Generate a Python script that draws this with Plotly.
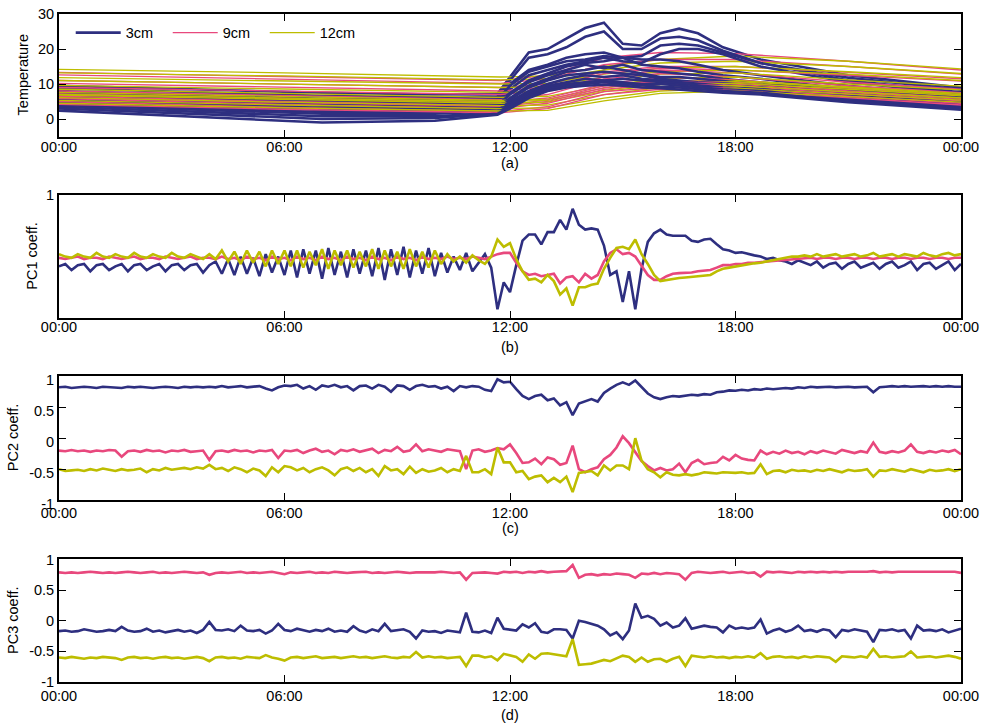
import plotly.graph_objects as go

# ---------------- axis / category data ----------------
STEP_MIN = 10  # sampling interval of the PC coefficient series (minutes)
TICK_VALS = [0, 360, 720, 1080, 1440]
TICK_TEXT = ["00:00", "06:00", "12:00", "18:00", "00:00"]
DEPTHS = ["3cm", "9cm", "12cm"]
COLORS = {"3cm": "#2e2f80", "9cm": "#e8487d", "12cm": "#bdbd00"}

# ---------------- panel (a): temperature profiles ----------------
TIMES_3CM = [0, 180, 420, 600, 700, 720, 750, 780, 810, 840, 870, 900, 930, 960, 990, 1020, 1060, 1120, 1260, 1440]
TEMP_3CM = [
    [9.5, 8.6, 7.5, 7.0, 7.2, 12.0, 19.0, 20.0, 23.0, 26.0, 27.5, 21.5, 21.0, 24.5, 25.8, 24.5, 20.5, 17.0, 12.5, 9.0],
    [8.8, 7.8, 6.6, 6.2, 6.5, 11.0, 17.5, 18.5, 20.5, 23.5, 25.0, 20.0, 20.0, 23.0, 23.5, 22.5, 19.5, 16.0, 11.8, 8.4],
    [8.0, 7.0, 5.8, 5.5, 5.8, 10.0, 14.0, 15.5, 17.5, 18.5, 19.0, 17.5, 18.0, 21.0, 21.5, 21.0, 19.0, 16.0, 11.0, 7.6],
    [7.0, 6.0, 4.8, 4.5, 5.0, 8.5, 12.5, 14.0, 15.5, 16.5, 17.5, 16.5, 16.0, 18.5, 20.0, 20.0, 18.5, 15.0, 10.5, 7.2],
    [7.5, 6.5, 5.3, 5.0, 5.5, 9.5, 13.5, 15.0, 16.5, 17.0, 18.0, 17.5, 17.0, 17.0, 16.5, 15.5, 14.0, 12.5, 9.5, 6.5],
    [6.5, 5.5, 4.2, 4.0, 4.5, 7.5, 11.0, 13.0, 15.0, 16.0, 16.5, 17.5, 15.5, 15.0, 14.5, 13.5, 12.5, 11.5, 8.5, 6.0],
    [6.0, 5.0, 3.8, 3.6, 4.0, 7.0, 10.5, 12.5, 14.0, 15.5, 14.5, 15.5, 14.0, 13.5, 13.0, 12.5, 11.5, 10.5, 8.0, 5.6],
    [5.5, 4.5, 3.2, 3.0, 3.5, 6.0, 9.5, 11.5, 13.5, 14.0, 15.0, 14.0, 13.0, 12.0, 12.0, 11.5, 11.0, 10.0, 7.5, 5.0],
    [5.0, 4.0, 2.6, 2.5, 3.0, 5.5, 9.0, 11.0, 12.5, 13.0, 13.5, 13.0, 12.5, 11.5, 11.0, 10.5, 10.2, 9.5, 7.0, 4.6],
    [4.5, 3.4, 2.0, 2.0, 2.5, 5.0, 8.0, 10.0, 11.5, 12.5, 12.0, 12.5, 11.5, 11.0, 10.5, 10.0, 9.5, 9.0, 6.5, 4.2],
    [4.0, 3.0, 1.5, 1.5, 2.2, 4.5, 7.5, 9.5, 10.5, 11.5, 11.0, 11.5, 11.0, 10.5, 10.0, 9.5, 9.0, 8.5, 6.0, 3.8],
    [3.5, 2.4, 0.8, 0.8, 1.8, 4.0, 7.0, 9.0, 10.0, 10.5, 11.0, 10.5, 10.0, 10.0, 9.5, 9.0, 8.5, 8.0, 5.5, 3.4],
    [3.0, 1.8, 0.0, 0.3, 1.5, 3.5, 6.5, 8.5, 9.5, 10.0, 10.5, 10.0, 9.5, 9.2, 9.0, 8.5, 8.0, 7.5, 5.0, 3.0],
    [2.4, 1.0, -1.0, -0.5, 1.2, 3.0, 6.0, 8.0, 9.0, 9.5, 9.8, 9.5, 9.0, 8.8, 8.5, 8.0, 7.5, 7.0, 4.8, 2.7],
]

TIMES_DEEP = [0, 360, 705, 780, 870, 960, 1080, 1260, 1440]
TEMP_9CM = [
    [13.3, 12.2, 11.0, 12.5, 17.5, 19.0, 18.7, 16.5, 14.0],
    [12.6, 11.4, 10.2, 11.5, 15.5, 17.0, 17.0, 15.0, 12.8],
    [11.0, 10.0, 9.0, 10.0, 13.5, 15.0, 15.0, 13.3, 11.5],
    [10.2, 9.0, 8.0, 9.2, 13.0, 14.5, 14.0, 12.5, 10.8],
    [9.0, 8.0, 7.0, 8.2, 12.0, 14.0, 13.2, 10.5, 8.5],
    [8.0, 6.8, 5.5, 7.0, 11.5, 13.0, 12.0, 9.5, 7.5],
    [7.2, 6.0, 4.8, 6.0, 10.0, 12.0, 11.2, 8.8, 6.8],
    [6.5, 5.0, 3.8, 5.5, 9.5, 11.0, 10.5, 8.0, 6.0],
    [6.0, 4.8, 3.6, 5.0, 9.0, 10.8, 10.0, 7.6, 5.6],
    [5.8, 4.2, 3.0, 4.5, 8.5, 10.0, 9.5, 7.2, 5.2],
    [5.0, 3.3, 2.2, 3.5, 7.8, 9.0, 8.8, 6.5, 4.5],
    [4.2, 2.8, 1.8, 3.0, 7.0, 8.5, 8.2, 6.0, 4.0],
]
TEMP_12CM = [
    [14.2, 13.2, 12.0, 12.3, 15.0, 17.0, 18.0, 16.5, 14.3],
    [13.2, 12.3, 11.2, 11.5, 14.0, 16.0, 16.5, 15.0, 13.0],
    [11.8, 10.8, 10.0, 10.2, 12.8, 14.5, 15.0, 13.5, 11.8],
    [11.0, 10.0, 9.0, 9.3, 12.0, 13.5, 14.0, 12.8, 11.0],
    [9.6, 8.6, 7.6, 7.9, 10.8, 12.8, 13.2, 11.2, 9.4],
    [8.5, 7.3, 6.2, 6.5, 9.5, 11.5, 12.0, 10.0, 8.3],
    [7.6, 6.5, 5.3, 5.7, 8.8, 10.8, 11.0, 9.2, 7.3],
    [7.0, 6.0, 5.0, 5.3, 8.2, 10.2, 10.7, 9.0, 7.0],
    [6.8, 5.6, 4.5, 4.8, 7.8, 9.8, 10.2, 8.5, 6.6],
    [6.1, 4.8, 3.8, 4.0, 7.0, 9.0, 9.5, 7.8, 6.0],
    [5.3, 4.0, 3.0, 3.2, 6.0, 8.0, 8.8, 7.2, 5.4],
    [4.5, 3.2, 2.3, 2.5, 5.2, 7.3, 8.0, 6.5, 4.8],
]

# ---------------- panel (b): PC1 coefficients (every 10 min) ----------------
PC1_3CM = [
    0.42, 0.44, 0.39, 0.43, 0.44, 0.38, 0.43, 0.44, 0.39, 0.42, 0.44, 0.38,
    0.43, 0.44, 0.39, 0.42, 0.44, 0.38, 0.43, 0.44, 0.39, 0.43, 0.44, 0.37,
    0.43, 0.46, 0.36, 0.48, 0.35, 0.50, 0.36, 0.49, 0.34, 0.52, 0.37, 0.50,
    0.35, 0.55, 0.33, 0.56, 0.36, 0.55, 0.32, 0.57, 0.35, 0.54, 0.33, 0.56,
    0.36, 0.55, 0.34, 0.57, 0.31, 0.56, 0.35, 0.58, 0.33, 0.55, 0.36, 0.57,
    0.34, 0.53, 0.37, 0.50, 0.39, 0.53, 0.38, 0.45, 0.52, 0.41, 0.07, 0.29,
    0.21, 0.43, 0.63, 0.68, 0.68, 0.60, 0.70, 0.70, 0.80, 0.72, 0.89, 0.76,
    0.72, 0.73, 0.72, 0.59, 0.35, 0.38, 0.13, 0.38, 0.07, 0.40, 0.62, 0.69,
    0.72, 0.68, 0.67, 0.67, 0.67, 0.63, 0.62, 0.64, 0.645, 0.60, 0.56, 0.55,
    0.53, 0.535, 0.52, 0.51, 0.50, 0.48, 0.49, 0.47, 0.46, 0.44, 0.47, 0.45,
    0.43, 0.46, 0.41, 0.44, 0.45, 0.40, 0.44, 0.46, 0.41, 0.43, 0.45, 0.40,
    0.44, 0.46, 0.41, 0.43, 0.46, 0.39, 0.44, 0.45, 0.40, 0.43, 0.46, 0.39,
    0.44,
]
PC1_9CM = [
    0.49, 0.48, 0.49, 0.50, 0.48, 0.49, 0.49, 0.48, 0.50, 0.49, 0.48, 0.49,
    0.50, 0.48, 0.49, 0.49, 0.48, 0.50, 0.49, 0.48, 0.49, 0.50, 0.48, 0.49,
    0.49, 0.48, 0.50, 0.48, 0.49, 0.47, 0.50, 0.48, 0.49, 0.47, 0.50, 0.48,
    0.49, 0.47, 0.50, 0.48, 0.49, 0.47, 0.50, 0.48, 0.49, 0.47, 0.50, 0.48,
    0.49, 0.47, 0.50, 0.48, 0.49, 0.47, 0.50, 0.48, 0.49, 0.47, 0.50, 0.48,
    0.49, 0.48, 0.50, 0.48, 0.49, 0.48, 0.50, 0.49, 0.48, 0.50, 0.52, 0.53,
    0.53, 0.45, 0.38, 0.35, 0.36, 0.34, 0.35, 0.36, 0.28, 0.33, 0.34, 0.29,
    0.36, 0.32, 0.35, 0.46, 0.53, 0.56, 0.52, 0.53, 0.50, 0.43, 0.35, 0.31,
    0.31, 0.34, 0.36, 0.365, 0.365, 0.37, 0.38, 0.385, 0.39, 0.41, 0.43, 0.43,
    0.44, 0.44, 0.45, 0.45, 0.455, 0.46, 0.465, 0.47, 0.475, 0.48, 0.48, 0.485,
    0.49, 0.48, 0.49, 0.49, 0.48, 0.49, 0.49, 0.48, 0.49, 0.49, 0.48, 0.49,
    0.49, 0.48, 0.49, 0.49, 0.48, 0.49, 0.49, 0.48, 0.49, 0.49, 0.48, 0.49,
    0.49,
]
PC1_12CM = [
    0.52, 0.50, 0.49, 0.52, 0.50, 0.49, 0.53, 0.50, 0.49, 0.52, 0.50, 0.49,
    0.53, 0.50, 0.49, 0.52, 0.50, 0.49, 0.53, 0.50, 0.49, 0.52, 0.50, 0.48,
    0.52, 0.48, 0.55, 0.46, 0.54, 0.44, 0.55, 0.45, 0.54, 0.42, 0.55, 0.44,
    0.55, 0.42, 0.55, 0.41, 0.54, 0.43, 0.56, 0.40, 0.55, 0.43, 0.55, 0.41,
    0.54, 0.42, 0.56, 0.40, 0.55, 0.42, 0.54, 0.40, 0.56, 0.42, 0.54, 0.41,
    0.55, 0.44, 0.52, 0.46, 0.50, 0.45, 0.51, 0.47, 0.44, 0.50, 0.64, 0.58,
    0.61, 0.48, 0.38, 0.31, 0.32, 0.29, 0.35, 0.30, 0.19, 0.24, 0.10, 0.25,
    0.25, 0.27, 0.28, 0.40, 0.49, 0.57, 0.58, 0.56, 0.64, 0.52, 0.44, 0.35,
    0.30, 0.31, 0.32, 0.325, 0.33, 0.335, 0.34, 0.345, 0.35, 0.38, 0.40, 0.41,
    0.42, 0.43, 0.44, 0.445, 0.45, 0.46, 0.47, 0.48, 0.49, 0.50, 0.50, 0.51,
    0.50, 0.52, 0.50, 0.51, 0.52, 0.50, 0.51, 0.52, 0.50, 0.51, 0.53, 0.50,
    0.51, 0.52, 0.50, 0.52, 0.51, 0.50, 0.53, 0.51, 0.50, 0.52, 0.53, 0.51,
    0.52,
]

# ---------------- panel (c): PC2 coefficients ----------------
PC2_3CM = [
    0.82, 0.83, 0.81, 0.82, 0.83, 0.82, 0.81, 0.83, 0.82, 0.82, 0.81, 0.83,
    0.82, 0.83, 0.82, 0.81, 0.82, 0.83, 0.82, 0.81, 0.83, 0.82, 0.83, 0.82,
    0.83, 0.82, 0.84, 0.82, 0.83, 0.84, 0.82, 0.83, 0.84, 0.80, 0.77, 0.82,
    0.85, 0.84, 0.86, 0.80, 0.84, 0.78, 0.85, 0.83, 0.86, 0.82, 0.84, 0.77,
    0.84, 0.85, 0.80, 0.86, 0.83, 0.75, 0.85, 0.84, 0.78, 0.84, 0.86, 0.83,
    0.84, 0.80, 0.83, 0.76, 0.84, 0.82, 0.84, 0.83, 0.78, 0.76, 0.95, 0.90,
    0.91, 0.79, 0.68, 0.63, 0.68, 0.70, 0.61, 0.64, 0.53, 0.58, 0.37, 0.56,
    0.60, 0.63, 0.59, 0.73, 0.80, 0.86, 0.90, 0.86, 0.93, 0.82, 0.72, 0.66,
    0.63, 0.66, 0.68, 0.67, 0.69, 0.70, 0.69, 0.71, 0.70, 0.74, 0.75, 0.77,
    0.765, 0.78, 0.77, 0.79, 0.78, 0.80, 0.79, 0.80, 0.81, 0.80, 0.82, 0.81,
    0.83, 0.82, 0.83, 0.83, 0.82, 0.83, 0.83, 0.82, 0.83, 0.83, 0.74, 0.82,
    0.83, 0.84, 0.83, 0.84, 0.83, 0.84, 0.84, 0.83, 0.84, 0.83, 0.84, 0.83,
    0.83,
]
PC2_9CM = [
    -0.20, -0.21, -0.19, -0.21, -0.20, -0.22, -0.20, -0.21, -0.19, -0.20, -0.30, -0.21,
    -0.20, -0.22, -0.19, -0.21, -0.20, -0.23, -0.20, -0.21, -0.19, -0.22, -0.21, -0.20,
    -0.35, -0.21, -0.20, -0.22, -0.19, -0.21, -0.20, -0.23, -0.20, -0.21, -0.19, -0.32,
    -0.20, -0.21, -0.19, -0.24, -0.20, -0.17, -0.22, -0.20, -0.26, -0.19, -0.21, -0.18,
    -0.22, -0.20, -0.17, -0.24, -0.19, -0.21, -0.14, -0.22, -0.20, -0.10, -0.21, -0.18,
    -0.20, -0.22, -0.18, -0.20, -0.21, -0.50, -0.20, -0.18, -0.22, -0.20, -0.16, -0.18,
    -0.10, -0.24, -0.40, -0.39, -0.33, -0.42, -0.31, -0.34, -0.43, -0.40, -0.12, -0.50,
    -0.55, -0.50, -0.47, -0.34, -0.27, -0.15, 0.03, -0.08, -0.22, -0.37, -0.45, -0.52,
    -0.48, -0.52, -0.50, -0.41, -0.55, -0.40, -0.35, -0.42, -0.40, -0.39, -0.30, -0.36,
    -0.27, -0.33, -0.35, -0.36, -0.20, -0.26, -0.22, -0.25, -0.20, -0.24, -0.22, -0.26,
    -0.21, -0.24, -0.20, -0.23, -0.25, -0.19, -0.22, -0.24, -0.21, -0.23, -0.07, -0.22,
    -0.24, -0.21, -0.23, -0.20, -0.10, -0.22, -0.24, -0.21, -0.23, -0.20, -0.22, -0.19,
    -0.26,
]
PC2_12CM = [
    -0.50, -0.53, -0.52, -0.51, -0.53, -0.50, -0.52, -0.49, -0.51, -0.53, -0.50, -0.52,
    -0.51, -0.49, -0.55, -0.50, -0.52, -0.48, -0.51, -0.50, -0.48, -0.50, -0.47, -0.49,
    -0.43, -0.50, -0.48, -0.53, -0.47, -0.50, -0.55, -0.49, -0.52, -0.61, -0.47, -0.55,
    -0.45, -0.47, -0.52, -0.48, -0.55, -0.50, -0.47, -0.52, -0.60, -0.50, -0.47, -0.53,
    -0.48, -0.55, -0.50, -0.61, -0.45, -0.52, -0.50, -0.58, -0.46, -0.56, -0.50, -0.54,
    -0.52, -0.48, -0.55, -0.50, -0.53, -0.285, -0.55, -0.55, -0.50, -0.58, -0.15, -0.39,
    -0.39, -0.55, -0.53, -0.66, -0.62, -0.60, -0.71, -0.64, -0.71, -0.62, -0.87, -0.56,
    -0.55, -0.53, -0.60, -0.44, -0.52, -0.44, -0.44, -0.50, 0.00, -0.36, -0.50, -0.55,
    -0.63, -0.55, -0.59, -0.60, -0.58, -0.60, -0.58, -0.55, -0.56, -0.57, -0.55, -0.56,
    -0.56, -0.55, -0.57, -0.56, -0.42, -0.58, -0.53, -0.52, -0.55, -0.51, -0.53, -0.52,
    -0.54, -0.51, -0.53, -0.50, -0.52, -0.55, -0.51, -0.53, -0.52, -0.50, -0.62, -0.52,
    -0.53, -0.50, -0.52, -0.54, -0.50, -0.52, -0.55, -0.51, -0.53, -0.52, -0.50, -0.53,
    -0.50,
]

# ---------------- panel (d): PC3 coefficients ----------------
PC3_3CM = [
    -0.17, -0.16, -0.18, -0.17, -0.14, -0.16, -0.18, -0.17, -0.15, -0.17, -0.10, -0.16,
    -0.18, -0.17, -0.13, -0.18, -0.16, -0.19, -0.17, -0.15, -0.18, -0.16, -0.20, -0.15,
    -0.02, -0.15, -0.16, -0.14, -0.17, -0.08, -0.16, -0.17, -0.15, -0.21, -0.16, -0.05,
    -0.15, -0.17, -0.13, -0.16, -0.18, -0.15, -0.17, -0.13, -0.18, -0.16, -0.18, -0.09,
    -0.16, -0.19, -0.14, -0.17, -0.05, -0.17, -0.16, -0.14, -0.18, -0.29, -0.16, -0.18,
    -0.17, -0.20, -0.16, -0.18, -0.19, 0.13, -0.18, -0.19, -0.16, -0.20, 0.05, -0.13,
    -0.15, -0.16, -0.06, -0.11, -0.04, -0.18, -0.20, -0.14, -0.14, -0.15, -0.29, 0.00,
    -0.02, -0.05, -0.08, -0.14, -0.24, -0.19, -0.30, -0.16, 0.28, 0.05, 0.08, 0.03,
    -0.08, -0.03, -0.11, -0.08, 0.04, -0.13, -0.11, -0.08, -0.10, -0.11, -0.19, -0.08,
    -0.13, -0.11, -0.13, -0.11, 0.02, -0.21, -0.16, -0.13, -0.18, -0.15, -0.08, -0.17,
    -0.15, -0.18, -0.14, -0.16, -0.27, -0.15, -0.17, -0.14, -0.16, -0.18, -0.35, -0.15,
    -0.16, -0.14, -0.17, -0.15, -0.29, -0.08, -0.16, -0.15, -0.17, -0.14, -0.19, -0.16,
    -0.13,
]
PC3_9CM = [
    0.79, 0.78, 0.79, 0.78, 0.79, 0.80, 0.79, 0.78, 0.79, 0.78, 0.79, 0.80,
    0.79, 0.78, 0.79, 0.80, 0.78, 0.79, 0.78, 0.79, 0.80, 0.79, 0.78, 0.79,
    0.75, 0.78, 0.79, 0.78, 0.79, 0.80, 0.78, 0.79, 0.78, 0.79, 0.80, 0.78,
    0.76, 0.79, 0.78, 0.79, 0.80, 0.78, 0.79, 0.78, 0.80, 0.79, 0.78, 0.79,
    0.79, 0.80, 0.78, 0.79, 0.78, 0.79, 0.80, 0.79, 0.78, 0.79, 0.79, 0.78,
    0.79, 0.80, 0.79, 0.78, 0.79, 0.67, 0.78, 0.79, 0.79, 0.78, 0.77, 0.80,
    0.79, 0.80, 0.78, 0.80, 0.79, 0.81, 0.79, 0.80, 0.80, 0.81, 0.91, 0.70,
    0.75, 0.76, 0.74, 0.76, 0.75, 0.77, 0.76, 0.75, 0.70, 0.77, 0.76, 0.78,
    0.76, 0.78, 0.77, 0.76, 0.67, 0.78, 0.80, 0.79, 0.78, 0.79, 0.80, 0.78,
    0.79, 0.80, 0.78, 0.79, 0.72, 0.80, 0.79, 0.80, 0.79, 0.78, 0.80, 0.79,
    0.80, 0.79, 0.80, 0.79, 0.80, 0.79, 0.80, 0.80, 0.79, 0.80, 0.81, 0.79,
    0.80, 0.79, 0.80, 0.80, 0.79, 0.80, 0.79, 0.80, 0.80, 0.79, 0.80, 0.80,
    0.78,
]
PC3_12CM = [
    -0.60, -0.61, -0.59, -0.60, -0.62, -0.60, -0.61, -0.59, -0.60, -0.61, -0.64, -0.60,
    -0.59, -0.61, -0.60, -0.62, -0.60, -0.59, -0.61, -0.60, -0.62, -0.60, -0.59, -0.61,
    -0.66, -0.60, -0.59, -0.61, -0.60, -0.62, -0.59, -0.60, -0.61, -0.56, -0.60, -0.62,
    -0.65, -0.60, -0.59, -0.61, -0.60, -0.58, -0.61, -0.60, -0.59, -0.61, -0.60, -0.58,
    -0.60, -0.59, -0.61, -0.60, -0.58, -0.60, -0.61, -0.59, -0.60, -0.51, -0.60, -0.58,
    -0.60, -0.59, -0.61, -0.60, -0.59, -0.74, -0.57, -0.57, -0.60, -0.58, -0.645, -0.54,
    -0.57, -0.59, -0.67, -0.55, -0.62, -0.54, -0.53, -0.55, -0.56, -0.58, -0.30, -0.72,
    -0.71, -0.70, -0.67, -0.64, -0.66, -0.61, -0.57, -0.59, -0.67, -0.60, -0.67, -0.63,
    -0.62, -0.67, -0.62, -0.59, -0.74, -0.57, -0.59, -0.60, -0.58, -0.60, -0.59, -0.61,
    -0.59, -0.60, -0.58, -0.60, -0.53, -0.62, -0.59, -0.58, -0.60, -0.59, -0.61, -0.58,
    -0.60, -0.58, -0.59, -0.60, -0.67, -0.58, -0.59, -0.60, -0.58, -0.60, -0.46, -0.59,
    -0.58, -0.60, -0.59, -0.58, -0.50, -0.60, -0.59, -0.58, -0.60, -0.58, -0.57, -0.59,
    -0.62,
]

PC_PANELS = [
    (2, {"3cm": PC1_3CM, "9cm": PC1_9CM, "12cm": PC1_12CM}),
    (3, {"3cm": PC2_3CM, "9cm": PC2_9CM, "12cm": PC2_12CM}),
    (4, {"3cm": PC3_3CM, "9cm": PC3_9CM, "12cm": PC3_12CM}),
]

# ---------------- build figure ----------------
FONT = "Liberation Sans, Arial, Helvetica, sans-serif"
FS = 14.5
fig = go.Figure()

TEMP_SETS = {"3cm": (TIMES_3CM, TEMP_3CM, 2.6),
             "9cm": (TIMES_DEEP, TEMP_9CM, 1.3),
             "12cm": (TIMES_DEEP, TEMP_12CM, 1.3)}
RANK = {"3cm": 1, "9cm": 2, "12cm": 3}
n_days = max(len(v[1]) for v in TEMP_SETS.values())
shown = set()
# lines drawn day by day (3cm, 9cm, 12cm of one record, then the next)
for k in range(n_days):
    for depth in DEPTHS:
        times, rows, w = TEMP_SETS[depth]
        if k >= len(rows):
            continue
        fig.add_trace(go.Scatter(
            x=times, y=rows[k], mode="lines", name=depth,
            line=dict(color=COLORS[depth], width=w),
            legendgroup=depth, showlegend=(depth not in shown), legendrank=RANK[depth],
            xaxis="x", yaxis="y"))
        shown.add(depth)

for n, series in PC_PANELS:
    for depth in DEPTHS:
        vals = series[depth]
        fig.add_trace(go.Scatter(
            x=[STEP_MIN * i for i in range(len(vals))], y=vals, mode="lines",
            line=dict(color=COLORS[depth], width=2.6),
            showlegend=False, xaxis=f"x{n}", yaxis=f"y{n}"))

H_PX = 726
PLOT_TOP, PLOT_BOT = 6, 682
def dom(top_px, bot_px):
    span = PLOT_BOT - PLOT_TOP
    return [(PLOT_BOT - bot_px) / span, (PLOT_BOT - top_px) / span]

DOMAINS = [dom(6, 130), dom(189.5, 313.5), dom(372.5, 498), dom(558, 682)]
Y_RANGES = [[-5, 30], [0, 1], [-1, 1], [-1, 1]]
Y_TICKS = [[0, 10, 20, 30], [1], [-1, -0.5, 0, 0.5, 1], [-1, -0.5, 0, 0.5, 1]]
Y_TEXT = [["0", "10", "20", "30"], ["1"], ["-1", "-0.5", "0", "0.5", "1"], ["-1", "-0.5", "0", "0.5", "1"]]
X_STANDOFF = [-4, -5, -1, 0]
Y_SHIFT = [0, 0, 4, 0]

axis_common = dict(ticks="inside", ticklen=7, tickwidth=1, tickcolor="black",
                   showline=True, linecolor="black", linewidth=1.8, mirror="ticks",
                   showgrid=False, zeroline=False,
                   tickfont=dict(family=FONT, size=FS, color="black"))
layout_axes = {}
for i in range(4):
    sfx = "" if i == 0 else str(i + 1)
    layout_axes[f"xaxis{sfx}"] = dict(axis_common, domain=[0, 1], range=[0, 1440],
                                      tickvals=TICK_VALS, ticktext=TICK_TEXT,
                                      ticklabelstandoff=X_STANDOFF[i],
                                      anchor=f"y{sfx}")
    layout_axes[f"yaxis{sfx}"] = dict(axis_common, domain=DOMAINS[i], range=Y_RANGES[i],
                                      tickvals=Y_TICKS[i], ticktext=Y_TEXT[i],
                                      ticklabelshift=Y_SHIFT[i],
                                      anchor=f"x{sfx}")

fig.update_layout(
    width=985, height=H_PX,
    margin=dict(l=59, r=20, t=PLOT_TOP, b=H_PX - PLOT_BOT),
    paper_bgcolor="white", plot_bgcolor="white",
    font=dict(family=FONT, size=FS, color="black"),
    legend=dict(orientation="h", x=0.013, y=DOMAINS[0][1] - 0.004, xanchor="left", yanchor="top",
                bgcolor="rgba(0,0,0,0)", font=dict(size=FS), traceorder="normal",
                itemwidth=45, entrywidth=37, entrywidthmode="pixels"),
    **layout_axes,
)

def ypx(p):
    return (PLOT_BOT - p) / (PLOT_BOT - PLOT_TOP)
def xpx(p):
    return (p - 59) / 906

ann = []
for txt, ycen in [("(a)", 157), ("(b)", 343), ("(c)", 526), ("(d)", 715)]:
    ann.append(dict(text=txt, xref="paper", yref="paper", x=0.5, y=ypx(ycen),
                    xanchor="center", yanchor="middle", showarrow=False,
                    font=dict(family=FONT, size=FS, color="black")))
for txt, xc, yc in [("Temperature", 23, 68), ("PC1 coeff.", 31, 251.5),
                    ("PC2 coeff.", 13, 435), ("PC3 coeff.", 13, 620)]:
    ann.append(dict(text=txt, xref="paper", yref="paper", x=xpx(xc), y=ypx(yc),
                    xanchor="center", yanchor="middle", textangle=-90, showarrow=False,
                    font=dict(family=FONT, size=FS, color="black")))
fig.update_layout(annotations=ann)

fig.write_html("out.html")
